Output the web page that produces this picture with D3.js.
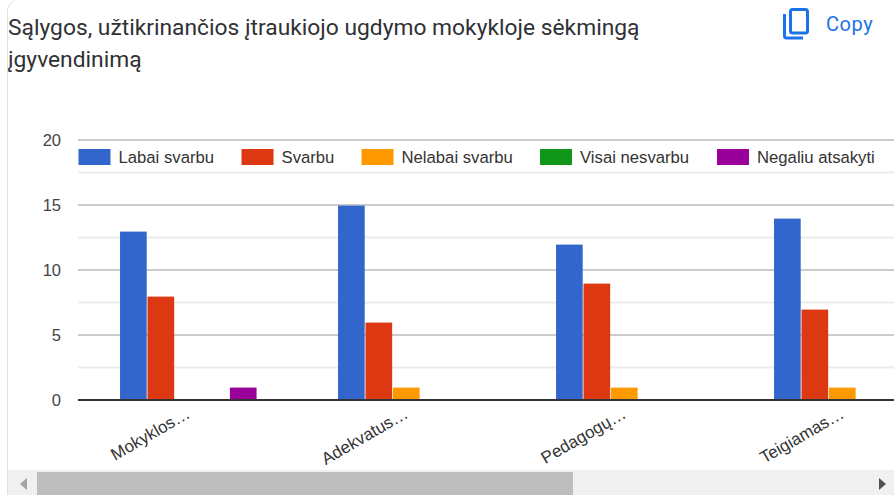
<!DOCTYPE html>
<html><head><meta charset="utf-8">
<script src="https://cdnjs.cloudflare.com/ajax/libs/d3/7.8.5/d3.min.js"></script>
<style>html,body{margin:0;padding:0;background:#fff;overflow:hidden}svg{display:block}</style>
</head><body><svg id="c" width="894" height="495"></svg>
<script>
const titleLines = ["Sąlygos, užtikrinančios įtraukiojo ugdymo mokykloje sėkmingą", "įgyvendinimą"];
const categories = ["Mokyklos…", "Adekvatus…", "Pedagogų…", "Teigiamas…"];
const seriesNames = ["Labai svarbu", "Svarbu", "Nelabai svarbu", "Visai nesvarbu", "Negaliu atsakyti"];
const seriesColors = ["#3366cc", "#dc3912", "#ff9900", "#109618", "#990099"];
const labaiSvarbu = [13, 15, 12, 14];
const svarbu = [8, 6, 9, 7];
const nelabaiSvarbu = [0, 1, 1, 1];
const visaiNesvarbu = [0, 0, 0, 0];
const negaliuAtsakyti = [1, 0, 0, 0];
const seriesValues = [labaiSvarbu, svarbu, nelabaiSvarbu, visaiNesvarbu, negaliuAtsakyti];
const majorTicks = [0, 5, 10, 15, 20];
const minorTicks = [2.5, 7.5, 12.5, 17.5];
const legendX = [78.5, 241.5, 361.5, 540, 717];

const svg = d3.select("#c");
const FONT = "'Liberation Sans', Arial, sans-serif";
const left = 78, bandLeft = 79.2, step = 218, right = 894;
const x0 = d3.scaleBand().domain(categories).range([bandLeft, bandLeft + step * categories.length]).padding(0);
const x1 = d3.scaleBand().domain(seriesNames).range([0, step * 0.63]).padding(0);
const groupOffset = (x0.bandwidth() - x1.range()[1]) / 2;
const y = d3.scaleLinear().domain([0, 20]).range([400, 140]);

svg.append("path").attr("d", "M7.5 495V12A12 12 0 0 1 14 1").attr("fill", "none").attr("stroke", "#e0e0e0").attr("stroke-width", 1);

svg.append("g").selectAll("text").data(titleLines).join("text")
  .attr("x", 8).attr("y", (d, i) => 35 + i * 32)
  .attr("font-family", "Roboto, sans-serif").attr("font-size", 22.8).attr("fill", "#303134")
  .text(d => d);

const icon = svg.append("g").attr("fill", "none").attr("stroke", "#1a73e8").attr("stroke-width", 3);
icon.append("rect").attr("x", 790.5).attr("y", 9.5).attr("width", 17).attr("height", 23.5).attr("rx", 2);
icon.append("path").attr("d", "M784.5 14V36a2 2 0 0 0 2 2H803");
svg.append("text").attr("x", 826).attr("y", 31).attr("font-family", "Roboto, sans-serif").attr("font-size", 20)
  .attr("letter-spacing", 0.6).attr("fill", "#1a73e8").text("Copy");

svg.append("g").selectAll("line").data(minorTicks).join("line")
  .attr("x1", left).attr("x2", right).attr("y1", d => y(d)).attr("y2", d => y(d))
  .attr("stroke", "#ebebeb").attr("stroke-width", 2);
svg.append("g").selectAll("line").data(majorTicks.filter(d => d > 0)).join("line")
  .attr("x1", left).attr("x2", right).attr("y1", d => y(d)).attr("y2", d => y(d))
  .attr("stroke", "#cccccc").attr("stroke-width", 2);

svg.append("g").selectAll("text").data(majorTicks).join("text")
  .attr("x", 61).attr("y", d => y(d) + 6).attr("text-anchor", "end")
  .attr("font-family", FONT).attr("font-size", 16.5).attr("fill", "#444444").text(d => d);

const groups = svg.append("g").selectAll("g").data(categories).join("g")
  .attr("transform", d => `translate(${x0(d) + groupOffset},0)`);
groups.selectAll("rect")
  .data((d, ci) => seriesNames.map((s, si) => ({ s, si, v: seriesValues[si][ci] })).filter(e => e.v > 0))
  .join("rect")
  .attr("x", e => x1(e.s) + 0.5)
  .attr("width", x1.bandwidth() - 0.8)
  .attr("y", e => y(e.v) + 0.6)
  .attr("height", e => y(0) - y(e.v) - 1)
  .attr("fill", e => seriesColors[e.si]);

svg.append("line").attr("x1", left).attr("x2", right).attr("y1", y(0)).attr("y2", y(0))
  .attr("stroke", "#333333").attr("stroke-width", 2);

svg.append("g").selectAll("text").data(categories).join("text")
  .attr("text-anchor", "end")
  .attr("transform", d => `translate(${x0(d) + x0.bandwidth() / 2 + 3},417) rotate(-30)`)
  .attr("font-family", FONT).attr("font-size", 17).attr("fill", "#333333").text(d => d);

const lg = svg.append("g").selectAll("g").data(seriesNames).join("g")
  .attr("transform", (d, i) => `translate(${legendX[i]},149)`);
lg.append("rect").attr("width", 32).attr("height", 16).attr("fill", (d, i) => seriesColors[i]);
lg.append("text").attr("x", 40).attr("y", 14).attr("font-family", FONT).attr("font-size", 16.7)
  .attr("fill", "#333333").text(d => d);

svg.append("rect").attr("x", 8).attr("y", 470).attr("width", 886).attr("height", 25).attr("fill", "#f0f0f0");
svg.append("rect").attr("x", 37).attr("y", 472).attr("width", 536).attr("height", 23).attr("fill", "#bebebe");
svg.append("path").attr("d", "M27 478V490L20 484Z").attr("fill", "#a3a3a3");
svg.append("path").attr("d", "M879 478V490L886 484Z").attr("fill", "#505050");
</script></body></html>
